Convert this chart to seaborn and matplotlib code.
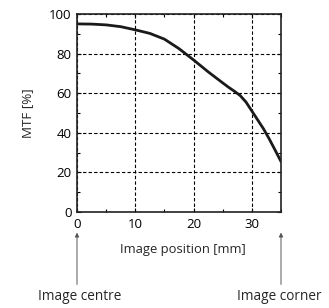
import numpy as np
import pandas as pd
import matplotlib
matplotlib.use("Agg")
import matplotlib.pyplot as plt
import seaborn as sns
from matplotlib.ticker import MultipleLocator

# ── data ─────────────────────────────────────────────────────────────────────
position_mm = [0, 2.5, 5, 7.5, 10, 12.5, 15, 17.5, 20, 22.5, 25, 26, 27, 28, 29, 30, 31, 32, 33, 34, 35]
mtf_pct = [95, 94.9, 94.5, 93.6, 92, 90.2, 87.3, 82.5, 76.8, 70.8, 65.2, 63.0, 61.0, 58.8, 55.5,
           51.0, 46.5, 42.0, 36.8, 31.2, 25.5]

df = pd.DataFrame({"pos": position_mm, "mtf": mtf_pct})

sns.set_style("ticks")
plt.rcParams["font.family"] = ["Open Sans", "DejaVu Sans"]

fig = plt.figure(figsize=(3.29, 3.08), dpi=100)
ax = fig.add_axes([77 / 329, 1 - 212 / 308, 204 / 329, 198 / 308])

sns.lineplot(data=df, x="pos", y="mtf", color="#1a1a1a", linewidth=2.0, ax=ax)

ax.set_xlim(0, 35)
ax.set_ylim(0, 100)
ax.xaxis.set_major_locator(MultipleLocator(10))
ax.xaxis.set_minor_locator(MultipleLocator(5))
ax.yaxis.set_major_locator(MultipleLocator(20))
ax.yaxis.set_minor_locator(MultipleLocator(10))
ax.grid(True, which="major", color="black", linestyle=(0, (3, 2)), linewidth=0.8)
ax.tick_params(which="both", direction="in", top=True, right=True,
               labelsize=9.5, colors="black", pad=4)
ax.tick_params(which="major", length=3, width=0.8)
ax.tick_params(which="minor", length=2, width=0.8)
for s in ax.spines.values():
    s.set_linewidth(1.2)
    s.set_color("#222222")

ax.set_xlabel("Image position [mm]", fontsize=9.4, labelpad=10)
ax.xaxis.set_label_coords(0.52, -0.155)
ax.set_ylabel("MTF [%]", fontsize=9.6, labelpad=11)

# arrows to the centre and the corner
arrow = dict(arrowstyle="-|>", color="#555555", lw=0.7, mutation_scale=6)
ax.annotate("", xy=(0, -0.09), xytext=(0, -0.38),
            xycoords=("data", "axes fraction"), arrowprops=arrow)
ax.annotate("", xy=(35, -0.09), xytext=(35, -0.38),
            xycoords=("data", "axes fraction"), arrowprops=arrow)
fig.text(80 / 329, 1 - 297 / 308, "Image centre", fontsize=9.8, ha="center", va="center")
fig.text(322 / 329, 1 - 297 / 308, "Image corner", fontsize=9.8, ha="right", va="center")

fig.savefig("out.png", dpi=100)
